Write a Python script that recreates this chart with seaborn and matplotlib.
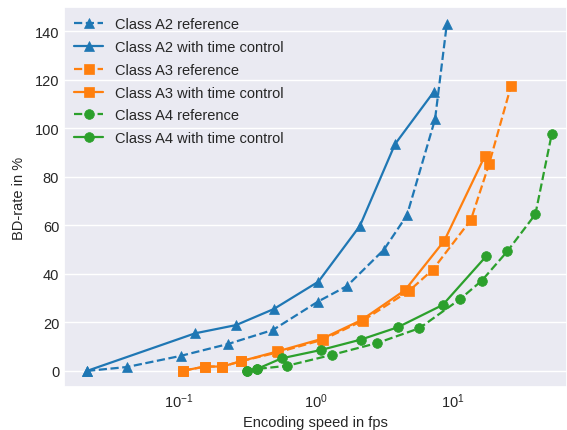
import matplotlib
matplotlib.use("Agg")
import matplotlib.pyplot as plt
import seaborn as sns

# encoding speed (fps) and BD-rate (%)
a2_ref_fps = [0.0213, 0.0417, 0.103, 0.228, 0.485, 1.034, 1.683, 3.13, 4.61, 7.39, 9.0]
a2_ref_bd = [0.0, 1.6, 6.2, 11.1, 16.9, 28.6, 35.0, 50.0, 64.2, 103.8, 142.9]
a2_tc_fps = [0.0213, 0.131, 0.261, 0.491, 1.04, 2.09, 3.77, 7.26]
a2_tc_bd = [0.0, 15.5, 18.9, 25.5, 36.8, 59.8, 93.5, 115.2]

a3_ref_fps = [0.1075, 0.155, 0.207, 0.284, 0.531, 1.125, 2.19, 4.80, 7.10, 13.5, 18.3, 26.5]
a3_ref_bd = [0.1, 1.8, 1.8, 4.0, 7.7, 12.9, 20.7, 33.1, 41.7, 62.3, 85.2, 117.5]
a3_tc_fps = [0.1075, 0.155, 0.207, 0.284, 0.52, 1.10, 2.15, 4.46, 8.64, 17.1]
a3_tc_bd = [0.1, 1.8, 1.8, 4.0, 8.0, 13.2, 21.0, 33.3, 53.7, 88.7]

a4_ref_fps = [0.3135, 0.371, 0.614, 1.302, 2.80, 5.68, 11.25, 16.2, 24.9, 39.9, 52.5]
a4_ref_bd = [0.0, 0.8, 2.1, 6.6, 11.5, 17.6, 29.6, 37.2, 49.3, 64.6, 97.6]
a4_tc_fps = [0.3135, 0.371, 0.562, 1.082, 2.12, 3.95, 8.41, 17.4]
a4_tc_bd = [0.0, 0.8, 5.2, 8.6, 12.9, 18.0, 27.2, 47.2]

blue, orange, green = "#1f77b4", "#ff7f0e", "#2ca02c"

sns.set_theme(style="darkgrid")
plt.rcParams["font.family"] = ["Liberation Sans", "DejaVu Sans"]

fig, ax = plt.subplots(figsize=(5.67, 4.31), dpi=100)
fig.subplots_adjust(left=0.113, right=1.0, top=0.981, bottom=0.1)

series = [
    (a2_ref_fps, a2_ref_bd, blue, "^", "--", "Class A2 reference"),
    (a2_tc_fps, a2_tc_bd, blue, "^", "-", "Class A2 with time control"),
    (a3_ref_fps, a3_ref_bd, orange, "s", "--", "Class A3 reference"),
    (a3_tc_fps, a3_tc_bd, orange, "s", "-", "Class A3 with time control"),
    (a4_ref_fps, a4_ref_bd, green, "o", "--", "Class A4 reference"),
    (a4_tc_fps, a4_tc_bd, green, "o", "-", "Class A4 with time control"),
]
for x, y, c, m, ls, lab in series:
    sns.lineplot(x=x, y=y, ax=ax, color=c, marker=m, linestyle=ls, label=lab,
                 estimator=None, sort=False, markersize=7,
                 markeredgecolor=c, markeredgewidth=0.5, linewidth=1.6)

ax.set_xscale("log")
ax.set_xlim(0.01448, 67.9)
ax.set_ylim(-6.6, 150)
ax.grid(axis="x", visible=False)
ax.tick_params(which="both", length=0, labelsize=10.5, pad=3.5)
ax.set_xlabel("Encoding speed in fps", fontsize=10.5, labelpad=3)
ax.set_ylabel("BD-rate in %", fontsize=10.5, labelpad=6)
ax.legend(loc="upper left", frameon=False, fontsize=10.5, borderaxespad=0.3,
          labelspacing=0.6)

fig.savefig("out.png", dpi=100)
